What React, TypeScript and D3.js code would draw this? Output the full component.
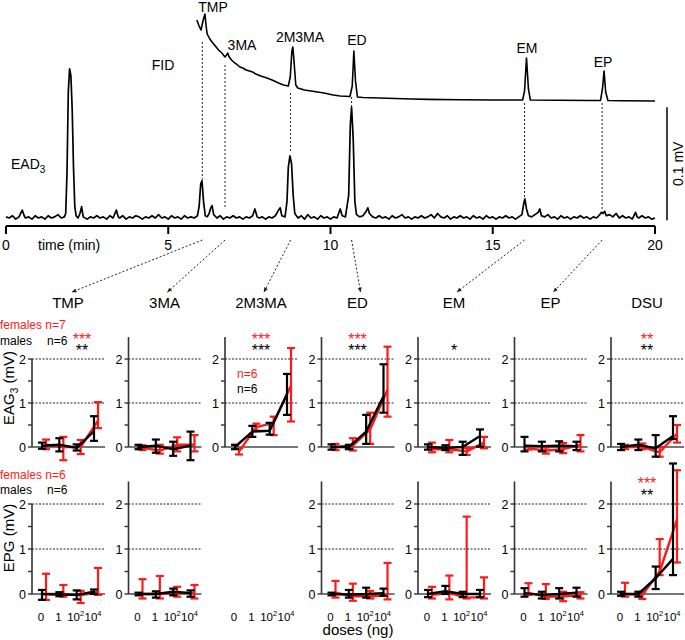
import React from 'react';
import * as d3 from 'd3';

// ---------- chromatogram data ----------
const TIME_TICKS = [0, 5, 10, 15, 20];
// EAD3 trace: [time (min), response (µV)]
const EAD_TRACE: [number, number][] = [
  [0.0, 1], [0.1, 0], [0.2, 2], [0.3, -1], [0.4, 1], [0.5, 7], [0.56, 2], [0.6, 0], [0.7, 1], [0.8, -1],
  [0.9, 2], [1.0, 0], [1.1, 1], [1.2, -1], [1.3, 2], [1.4, 0], [1.5, 1], [1.6, 3], [1.7, 0], [1.8, 1],
  [1.84, 4], [1.88, 40], [1.92, 112], [1.96, 132], [2.0, 126], [2.04, 96], [2.08, 45], [2.12, 10], [2.16, 2],
  [2.22, 0], [2.28, 4], [2.33, 10], [2.38, 1], [2.5, -1], [2.6, 1], [2.7, 0], [2.8, 2], [2.9, 0], [3.0, 1],
  [3.1, -1], [3.2, 2], [3.3, 0], [3.4, 7], [3.46, 1], [3.5, 0], [3.6, 2], [3.7, -1], [3.8, 1], [3.9, 0],
  [4.0, 2], [4.1, 1], [4.2, -1], [4.3, 1], [4.4, 0], [4.5, 2], [4.6, 0], [4.7, 3], [4.8, 0], [4.9, 1],
  [5.0, -1], [5.1, 2], [5.2, 0], [5.3, 1], [5.4, -1], [5.5, 2], [5.6, 0], [5.7, 1], [5.8, 0], [5.9, 2],
  [5.95, 10], [6.0, 30], [6.04, 33], [6.09, 14], [6.14, 2], [6.2, 1], [6.26, 4], [6.31, 9], [6.35, 11],
  [6.4, 3], [6.5, 0], [6.6, 2], [6.7, -1], [6.8, 1], [6.9, 0], [7.0, 2], [7.1, 0], [7.2, 1], [7.3, -1],
  [7.4, 1], [7.5, 0], [7.6, 2], [7.67, 8], [7.74, 1], [7.8, 0], [7.9, 1], [8.0, -1], [8.1, 1], [8.2, 0],
  [8.3, 2], [8.4, 7], [8.45, 9], [8.5, 2], [8.6, 1], [8.66, 15], [8.7, 45], [8.75, 55], [8.8, 48],
  [8.85, 20], [8.9, 4], [9.0, 0], [9.1, 2], [9.2, -1], [9.3, 3], [9.4, 0], [9.5, 1], [9.6, -1], [9.7, 2],
  [9.8, 0], [9.9, 1], [10.0, -1], [10.1, 1], [10.2, 0], [10.3, 8], [10.36, 2], [10.46, 1], [10.56, 20],
  [10.61, 82], [10.65, 98], [10.7, 70], [10.75, 15], [10.8, 3], [10.9, 1], [11.0, 2], [11.1, 6], [11.15, 9],
  [11.2, 4], [11.3, 1], [11.4, 0], [11.5, 2], [11.6, 0], [11.7, 1], [11.8, -1], [11.9, 2], [12.0, 0],
  [12.1, 1], [12.2, 3], [12.3, 0], [12.4, 1], [12.5, -1], [12.6, 1], [12.7, 0], [12.8, 2], [12.9, 0],
  [13.0, 1], [13.1, 3], [13.2, 0], [13.3, 4], [13.4, 1], [13.5, 0], [13.6, 2], [13.7, -1], [13.8, 1],
  [13.9, 0], [14.0, 2], [14.1, 0], [14.2, 1], [14.3, -1], [14.4, 2], [14.5, 0], [14.6, 1], [14.7, -1],
  [14.8, 2], [14.9, 0], [15.0, 1], [15.1, -1], [15.2, 1], [15.3, 0], [15.4, 2], [15.5, 0], [15.6, 1],
  [15.7, -1], [15.8, 1], [15.9, 3], [15.95, 12], [15.99, 17], [16.04, 8], [16.1, 2], [16.2, 1], [16.3, 3],
  [16.4, 5], [16.45, 8], [16.5, 2], [16.6, 1], [16.7, 3], [16.8, 0], [16.9, 1], [17.0, -1], [17.1, 2],
  [17.2, 0], [17.3, 1], [17.4, -1], [17.5, 1], [17.6, 0], [17.7, 2], [17.8, 0], [17.9, 1], [18.0, -1],
  [18.1, 1], [18.2, 0], [18.3, 3], [18.35, 5], [18.4, 4], [18.45, 6], [18.5, 2], [18.6, 3], [18.7, 1],
  [18.8, 4], [18.9, 0], [19.0, 2], [19.1, 0], [19.2, 1], [19.3, -1], [19.4, 5], [19.45, 1], [19.5, 0],
  [19.6, 2], [19.7, 0], [19.8, 1], [19.9, -1], [20.0, 0],
];
// FID trace: [time (min), signal (a.u.)]
const FID_TRACE: [number, number][] = [
  [5.88, 81], [5.95, 75], [6.01, 71], [6.07, 80], [6.13, 87], [6.17, 74], [6.2, 67], [6.28, 62],
  [6.35, 59], [6.45, 55], [6.55, 51], [6.65, 48], [6.75, 44], [6.8, 46], [6.83, 48], [6.88, 44],
  [6.95, 41], [7.05, 38], [7.1, 37], [7.21, 34], [7.3, 33], [7.4, 31], [7.5, 30], [7.6, 29], [7.7, 27],
  [7.85, 25], [8.04, 23], [8.2, 21], [8.4, 18], [8.55, 16], [8.7, 15], [8.76, 24], [8.81, 50], [8.84, 54],
  [8.88, 38], [8.93, 16], [8.99, 13], [9.2, 11], [9.4, 10], [9.6, 9], [9.8, 8], [10.08, 6], [10.3, 5],
  [10.6, 4.5], [10.67, 15], [10.72, 50], [10.77, 20], [10.83, 4], [11.0, 3.5], [11.5, 3], [12.0, 2.5],
  [12.5, 2], [13.0, 1.6], [14.0, 1.2], [15.0, 1], [15.92, 1], [15.98, 10], [16.04, 43], [16.1, 12],
  [16.16, 1], [17.0, 0.8], [18.0, 0.5], [18.32, 0.5], [18.38, 12], [18.43, 30], [18.48, 9], [18.55, 0.5],
  [19.0, 0.3], [20.0, 0],
];

const COMPOUNDS = ['TMP', '3MA', '2M3MA', 'ED', 'EM', 'EP'];
const RETENTION = [6.05, 6.75, 8.77, 10.65, 15.98, 18.37];
const FID_DASH_TOP = [59, 36, 8, 4, -2, -2];
const EAD_DASH_BOTTOM = [34, 9, 58, 97, 18, 6];

// ---------- dose-response data ----------
const PANELS = ['TMP', '3MA', '2M3MA', 'ED', 'EM', 'EP', 'DSU'];
const DOSE_BASE = ['0', '1', '10', '10'];
const DOSE_EXP = ['', '', '2', '4'];
const Y_TICKS = [0, 1, 2];
const Y_MINOR = [0.5, 1.5];

// EAG3 (mV), males (black)
const EAG_M_MEAN = [
  [0.03, 0.05, -0.02, 0.36], [0.0, 0.03, -0.05, 0.03], [0.0, 0.35, 0.37, 1.2], [0.0, 0.0, 0.35, 1.15],
  [0.0, -0.02, 0.0, 0.25], [0.03, 0.02, 0.03, 0.02], [0.0, 0.05, -0.03, 0.25],
];
const EAG_M_LO = [
  [-0.04, -0.1, -0.08, 0.14], [-0.05, -0.13, -0.2, -0.3], [-0.05, 0.23, 0.28, 0.73], [-0.06, -0.05, 0.07, 0.78],
  [-0.06, -0.07, -0.18, 0.01], [-0.1, -0.1, -0.1, -0.07], [-0.07, -0.07, -0.22, 0.18],
];
const EAG_M_HI = [
  [0.1, 0.2, 0.06, 0.7], [0.05, 0.17, 0.12, 0.35], [0.05, 0.48, 0.55, 1.66], [0.06, 0.05, 0.73, 1.88],
  [0.06, 0.04, 0.12, 0.4], [0.23, 0.12, 0.13, 0.12], [0.07, 0.17, 0.27, 0.7],
];
// EAG3 (mV), females (red)
const EAG_F_MEAN = [
  [0.05, 0.0, 0.0, 0.6], [-0.02, -0.08, 0.05, 0.05], [-0.1, 0.45, 0.55, 1.4], [0.0, 0.03, 0.4, 1.3],
  [-0.05, -0.05, -0.1, 0.1], [-0.03, -0.08, -0.05, 0.05], [0.0, 0.0, -0.12, 0.3],
];
const EAG_F_LO = [
  [-0.05, -0.3, -0.16, 0.43], [-0.07, -0.15, -0.1, -0.1], [-0.17, 0.37, 0.27, 0.58], [-0.07, -0.08, 0.07, 0.69],
  [-0.12, -0.12, -0.18, -0.03], [-0.06, -0.15, -0.14, -0.1], [-0.05, -0.05, -0.22, 0.1],
];
const EAG_F_HI = [
  [0.17, 0.23, 0.16, 1.02], [0.04, 0.05, 0.22, 0.27], [-0.03, 0.53, 0.69, 2.25], [0.07, 0.2, 0.78, 2.28],
  [0.1, 0.16, -0.02, 0.23], [0.02, -0.01, 0.09, 0.27], [0.05, 0.08, 0.0, 0.5],
];
// EPG (mV); 2M3MA not tested
const EPG_M_MEAN = [
  [0.0, -0.01, -0.02, 0.05], [0.0, 0.0, 0.05, 0.02], null, [0.0, -0.01, 0.0, 0.02],
  [0.0, 0.06, 0.0, 0.0], [0.02, -0.02, 0.0, 0.03], [0.0, 0.0, 0.35, 0.78],
];
const EPG_M_LO = [
  [-0.13, -0.05, -0.12, 0.0], [-0.03, -0.08, -0.03, -0.06], null, [-0.03, -0.08, -0.08, -0.04],
  [-0.07, 0.0, -0.07, -0.07], [-0.06, -0.1, -0.1, -0.06], [-0.04, -0.06, 0.11, 0.42],
];
const EPG_M_HI = [
  [0.09, 0.04, 0.08, 0.1], [0.03, 0.06, 0.12, 0.08], null, [0.03, 0.09, 0.14, 0.12],
  [0.09, 0.18, 0.05, 0.09], [0.13, 0.05, 0.13, 0.14], [0.05, 0.05, 0.61, 2.9],
];
const EPG_F_MEAN = [
  [0.0, 0.0, -0.03, 0.05], [0.0, 0.0, 0.03, 0.02], null, [0.03, -0.05, -0.05, -0.03],
  [-0.02, 0.02, -0.08, -0.07], [0.02, -0.06, -0.05, -0.03], [0.0, -0.02, 0.5, 1.65],
];
const EPG_F_LO = [
  [-0.13, -0.06, -0.2, -0.02], [-0.1, -0.1, -0.06, -0.1], null, [-0.08, -0.15, -0.1, -0.12],
  [-0.1, -0.12, -0.1, -0.1], [-0.02, -0.11, -0.16, -0.1], [-0.06, -0.11, 0.42, 0.7],
];
const EPG_F_HI = [
  [0.45, 0.2, 0.07, 0.58], [0.33, 0.4, 0.16, 0.2], null, [0.29, 0.23, 0.07, 0.69],
  [0.16, 0.41, 1.72, 0.37], [0.24, 0.22, 0.05, 0.04], [0.25, 0.05, 1.22, 2.75],
];
const EAG_STARS_F = ['***', '', '***', '***', '', '', '**'];
const EAG_STARS_M = ['**', '', '***', '***', '*', '', '**'];
const EPG_STARS_F = ['', '', '', '', '', '', '***'];
const EPG_STARS_M = ['', '', '', '', '', '', '**'];

const FONT = "'Liberation Sans', Arial, Helvetica, sans-serif";
const RED = '#ff1a1a';

type Row = {
  y0: number; yTop: number; label: string; sub: string; labelY: number;
  mM: (number[] | null)[]; mL: (number[] | null)[]; mH: (number[] | null)[];
  fM: (number[] | null)[]; fL: (number[] | null)[]; fH: (number[] | null)[];
  starsF: string[]; starsM: string[]; showDoses: boolean;
};

export default function App() {
  const W = 685, H = 640;
  const x = d3.scaleLinear().domain([0, 20]).range([6, 655]);
  const eadY = d3.scaleLinear().domain([0, 100]).range([218, 105]);
  const fidY = d3.scaleLinear().domain([0, 100]).range([101, 1]);
  const eadLine = d3.line<[number, number]>().x(d => x(d[0])).y(d => eadY(d[1]));
  const fidLine = d3.line<[number, number]>().x(d => x(d[0])).y(d => fidY(d[1]));

  const panelX = (i: number) => 32 + i * 96.5;
  const PANEL_W = 73;

  const rows: Row[] = [
    { y0: 447, yTop: 337, label: 'EAG', sub: '3', labelY: 388, mM: EAG_M_MEAN, mL: EAG_M_LO, mH: EAG_M_HI,
      fM: EAG_F_MEAN, fL: EAG_F_LO, fH: EAG_F_HI, starsF: EAG_STARS_F, starsM: EAG_STARS_M, showDoses: false },
    { y0: 594, yTop: 481.5, label: 'EPG', sub: '', labelY: 538, mM: EPG_M_MEAN, mL: EPG_M_LO, mH: EPG_M_HI,
      fM: EPG_F_MEAN, fL: EPG_F_LO, fH: EPG_F_HI, starsF: EPG_STARS_F, starsM: EPG_STARS_M, showDoses: true },
  ];

  const renderSeries = (
    xs: d3.ScalePoint<string>, y: d3.ScaleLinear<number, number>,
    mean: number[], lo: number[], hi: number[], color: string, dx: number, key: string,
  ) => {
    const pts = mean.map((m, k) => [xs(DOSE_BASE[k] + DOSE_EXP[k] + k)! + dx, y(m)] as [number, number]);
    const line = d3.line<[number, number]>()(pts)!;
    return (
      <g key={key}>
        <path d={line} fill="none" stroke={color} strokeWidth={2.4} strokeLinejoin="round" />
        {mean.map((m, k) => {
          const cx = pts[k][0];
          return (
            <g key={k} stroke={color} strokeWidth={2.2}>
              <line x1={cx} x2={cx} y1={y(lo[k])} y2={y(hi[k])} />
              <line x1={cx - 4} x2={cx + 4} y1={y(lo[k])} y2={y(lo[k])} />
              <line x1={cx - 4} x2={cx + 4} y1={y(hi[k])} y2={y(hi[k])} />
            </g>
          );
        })}
      </g>
    );
  };

  return (
    <svg width={W} height={H} style={{ position: 'absolute', left: 0, top: 0, background: '#fff' }}
      fontFamily={FONT}>
      <defs>
        <marker id="arrow" viewBox="0 0 10 10" refX="9" refY="5" markerWidth="5" markerHeight="5" orient="auto">
          <path d="M0,1 L10,5 L0,9 z" fill="#222" />
        </marker>
      </defs>

      {/* ---------- chromatogram ---------- */}
      <path d={fidLine(FID_TRACE)!} fill="none" stroke="#000" strokeWidth={1.6} strokeLinejoin="round" />
      <path d={eadLine(EAD_TRACE)!} fill="none" stroke="#000" strokeWidth={1.7} strokeLinejoin="round" />
      {RETENTION.map((t, i) => (
        <line key={'d' + i} x1={x(t)} x2={x(t)} y1={fidY(FID_DASH_TOP[i])} y2={eadY(EAD_DASH_BOTTOM[i])}
          stroke="#222" strokeWidth={1} strokeDasharray="2,2" />
      ))}
      <text x={213} y={12} fontSize={14} textAnchor="middle">{COMPOUNDS[0]}</text>
      <text x={242} y={50} fontSize={14} textAnchor="middle">{COMPOUNDS[1]}</text>
      <text x={300} y={42} fontSize={14} textAnchor="middle">{COMPOUNDS[2]}</text>
      <text x={357} y={45} fontSize={14} textAnchor="middle">{COMPOUNDS[3]}</text>
      <text x={527} y={53} fontSize={14} textAnchor="middle">{COMPOUNDS[4]}</text>
      <text x={603} y={67} fontSize={14} textAnchor="middle">{COMPOUNDS[5]}</text>
      <text x={163} y={70} fontSize={14} textAnchor="middle">FID</text>
      <text x={11} y={169} fontSize={14}>EAD<tspan fontSize={10} dy={4}>3</tspan></text>

      {/* scale bar */}
      <line x1={667} x2={667} y1={eadY(-2)} y2={eadY(98)} stroke="#000" strokeWidth={1.5} />
      <text transform={`translate(683,${eadY(48)}) rotate(-90)`} fontSize={14} textAnchor="middle">0.1 mV</text>

      {/* time axis */}
      <line x1={x(0)} x2={x(20)} y1={226} y2={226} stroke="#000" strokeWidth={2} />
      {TIME_TICKS.map(t => (
        <g key={'t' + t}>
          <line x1={x(t)} x2={x(t)} y1={226} y2={234} stroke="#000" strokeWidth={2} />
          <text x={x(t)} y={250} fontSize={14} textAnchor="middle">{t}</text>
        </g>
      ))}
      <text x={38} y={250} fontSize={14}>time (min)</text>

      {/* arrows to panels */}
      {RETENTION.map((t, i) => (
        <line key={'a' + i} x1={x(t)} y1={240} x2={panelX(i) + 38 + (i === 0 ? 2 : 1)} y2={292}
          stroke="#222" strokeWidth={1} strokeDasharray="2,2" markerEnd="url(#arrow)" />
      ))}

      {/* panel titles */}
      {PANELS.map((p, i) => (
        <text key={'p' + p} x={panelX(i) + 36} y={308} fontSize={15} textAnchor="middle">{p}</text>
      ))}

      {/* ---------- dose-response panels ---------- */}
      {rows.map((r, ri) => {
        const y = d3.scaleLinear().domain([0, 2.5]).range([r.y0, r.yTop]);
        return (
          <g key={'r' + ri}>
            <text transform={`translate(14,${r.labelY}) rotate(-90)`} fontSize={15} textAnchor="middle">
              {r.label}{r.sub ? <tspan fontSize={10} dy={4}>{r.sub}</tspan> : null}
              <tspan dy={r.sub ? -4 : 0}> (mV)</tspan>
            </text>
            {PANELS.map((p, i) => {
              const ax = panelX(i);
              const xs = d3.scalePoint<string>()
                .domain(DOSE_BASE.map((b, k) => b + DOSE_EXP[k] + k))
                .range([ax + 10, ax + 62]);
              const hasData = r.mM[i] !== null;
              const top = i === 0 ? y(2) : r.yTop;
              const starX = i === 0 ? ax + 50 : ax + 36;
              return (
                <g key={'pn' + i}>
                  {hasData && (
                    <g>
                      {[1, 2].map(v => (
                        <line key={'g' + v} x1={ax} x2={ax + PANEL_W} y1={y(v)} y2={y(v)}
                          stroke="#222" strokeWidth={1} strokeDasharray="2,1.5" />
                      ))}
                      <line x1={ax} x2={ax + PANEL_W} y1={y(0)} y2={y(0)} stroke="#777" strokeWidth={2} />
                      <line x1={ax} x2={ax} y1={top} y2={y(0)} stroke="#333" strokeWidth={1.6} />
                      {Y_TICKS.map(v => (
                        <g key={'yt' + v}>
                          <line x1={ax - 4} x2={ax} y1={y(v)} y2={y(v)} stroke="#333" strokeWidth={1.4} />
                          <text x={ax - 6} y={y(v) + 4.5} fontSize={12.5} textAnchor="end">{v}</text>
                        </g>
                      ))}
                      {Y_MINOR.map(v => (
                        <line key={'ym' + v} x1={ax - 4} x2={ax} y1={y(v)} y2={y(v)} stroke="#333" strokeWidth={1.4} />
                      ))}
                      {renderSeries(xs, y, r.fM[i]!, r.fL[i]!, r.fH[i]!, RED, 4, 'f')}
                      {renderSeries(xs, y, r.mM[i]!, r.mL[i]!, r.mH[i]!, '#000', 0, 'm')}
                    </g>
                  )}
                  {r.starsF[i] && (
                    <text x={starX} y={r.yTop + 7.5} fontSize={16} textAnchor="middle" fill={RED}>{r.starsF[i]}</text>
                  )}
                  {r.starsM[i] && (
                    <text x={starX} y={r.yTop + 19} fontSize={16} textAnchor="middle" fill="#000">{r.starsM[i]}</text>
                  )}
                  {r.showDoses && DOSE_BASE.map((b, k) => (
                    <text key={'dl' + k} x={xs(b + DOSE_EXP[k] + k)! - 1} y={621} fontSize={11.5} textAnchor="middle">
                      {b}{DOSE_EXP[k] ? <tspan fontSize={7.5} dy={-5}>{DOSE_EXP[k]}</tspan> : null}
                    </text>
                  ))}
                </g>
              );
            })}
          </g>
        );
      })}

      {/* legends */}
      <text x={0} y={329} fontSize={12} fill={RED}>females n=7</text>
      <text x={0} y={345} fontSize={12}>males</text>
      <text x={47} y={345} fontSize={12}>n=6</text>
      <text x={237} y={378} fontSize={12} fill={RED}>n=6</text>
      <text x={237} y={393} fontSize={12}>n=6</text>
      <text x={0} y={479} fontSize={12} fill={RED}>females n=6</text>
      <text x={0} y={494} fontSize={12}>males</text>
      <text x={47} y={494} fontSize={12}>n=6</text>

      <text x={358} y={635} fontSize={15} textAnchor="middle">doses (ng)</text>
    </svg>
  );
}
